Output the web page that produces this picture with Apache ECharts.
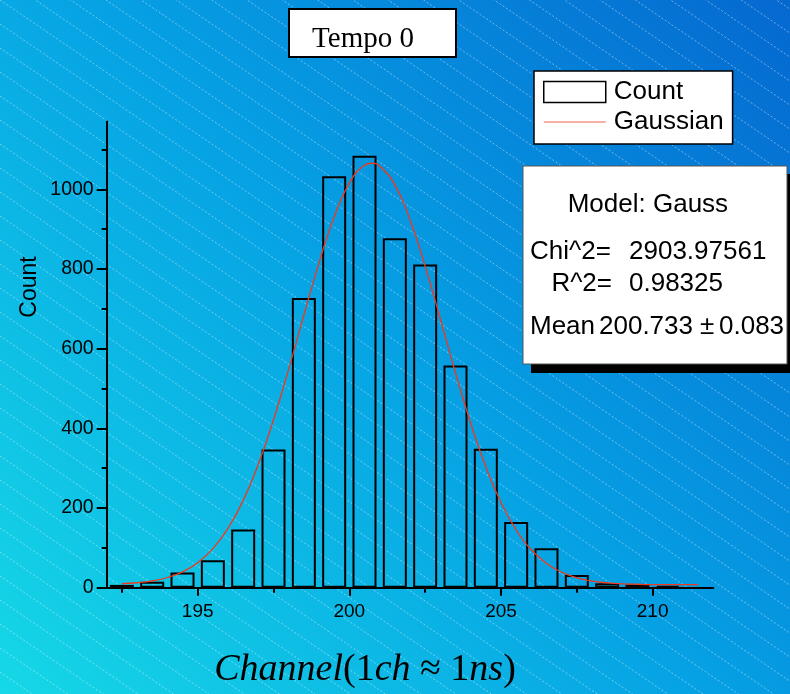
<!DOCTYPE html>
<html>
<head>
<meta charset="utf-8">
<script src="https://cdn.jsdelivr.net/npm/echarts/dist/echarts.min.js"></script>
<style>html,body{margin:0;padding:0;}#c{width:790px;height:694px;}</style>
</head>
<body>
<div id="c"></div>
<script>
// ---- data ----
const binCenters = [192.5,193.5,194.5,195.5,196.5,197.5,198.5,199.5,200.5,201.5,202.5,203.5,204.5,205.5,206.5,207.5,208.5,209.5,210.5];
const counts     = [7,15,38,69,146,347,727,1033,1084,877,811,558,349,165,99,32,11,8,5];
const curveX = [192.5,193,193.5,194,194.5,195,195.5,196,196.5,197,197.5,198,198.5,199,199.5,200,200.5,200.75,201,201.5,202,202.5,203,203.5,204,204.5,205,205.5,206,206.5,207,207.5,208,208.5,209,209.5,210,210.5,211,211.5];
const curveY = [9.9,12.4,17.1,25.6,39.8,62.8,98.1,149.2,219.2,310.3,421.6,548.7,683.8,815.5,930.5,1015.7,1060.3,1065.5,1058.7,1011.1,923.5,806.9,674.6,539.6,413.5,303.4,213.8,145.0,95.2,60.9,38.7,24.9,16.7,12.2,9.8,8.6,7.9,7.7,7.6,7.5];
const xMajorTicks = [195,200,205,210];
const xMinorTicks = [192.5,197.5,202.5,207.5];
const yMajorTicks = [0,200,400,600,800,1000];
const yMinorTicks = [100,300,500,700,900,1100];
const titleText = 'Tempo 0';
const statsLines = {model:'Model: Gauss', chiLabel:'Chi^2', chiVal:'2903.97561', r2Label:'R^2', r2Val:'0.98325', meanLabel:'Mean', meanVal:'200.733', meanErr:'0.083'};

const chart = echarts.init(document.getElementById('c'), null, {renderer:'canvas'});

// background texture lines
const tex = [];
for (let c = -600; c < 700; c += 24) {
  tex.push({type:'line', silent:true, z:-10,
    shape:{x1:0, y1:c, x2:790, y2:c + 0.68*790},
    style:{stroke:'rgba(255,255,255,0.42)', lineWidth:1, lineDash:[2,2]}});
}

const sans = 'Liberation Sans, Arial, sans-serif';
const serif = 'Liberation Serif, Times New Roman, serif';

const gridL = 106.7, gridR = 76.7, gridT = 121.6, gridB = 106.3;

const option = {
  animation:false,
  backgroundColor: new echarts.graphic.LinearGradient(0,1,1,0,[
    {offset:0, color:'#16d8e6'},
    {offset:0.5, color:'#06a2e4'},
    {offset:1, color:'#0568d0'}
  ]),
  grid:{left:gridL, right:gridR, top:gridT, bottom:gridB},
  xAxis:[{
    type:'value', min:192, max:212,
    axisLine:{show:true, onZero:false, lineStyle:{color:'#000', width:2}},
    axisTick:{show:true, customValues:xMajorTicks, length:8, lineStyle:{color:'#000', width:2}},
    axisLabel:{show:true, customValues:xMajorTicks, color:'#000', fontSize:19, fontFamily:sans, margin:15},
    splitLine:{show:false}
  },{
    type:'value', min:192, max:212, position:'bottom',
    axisLine:{show:false},
    axisTick:{show:true, customValues:xMinorTicks, length:5, lineStyle:{color:'#000', width:2}},
    axisLabel:{show:false},
    splitLine:{show:false}
  }],
  yAxis:[{
    type:'value', min:0, max:1170,
    axisLine:{show:true, lineStyle:{color:'#000', width:2}},
    axisTick:{show:true, customValues:yMajorTicks, length:10, lineStyle:{color:'#000', width:2}},
    axisLabel:{show:true, customValues:yMajorTicks, color:'#000', fontSize:19.5, fontFamily:sans, margin:13,
      formatter:function(v){return String(v);}},
    splitLine:{show:false}
  },{
    type:'value', min:0, max:1170, position:'left',
    axisLine:{show:false},
    axisTick:{show:true, customValues:yMinorTicks, length:5, lineStyle:{color:'#000', width:2}},
    axisLabel:{show:false},
    splitLine:{show:false}
  }],
  legend:{
    left:534, top:71, orient:'vertical',
    backgroundColor:'#fff', borderColor:'#000', borderWidth:1.5,
    padding:[8,9,9,9], itemGap:4, itemWidth:62, itemHeight:21,
    symbolKeepAspect:true,
    textStyle:{color:'#000', fontSize:26, fontFamily:sans, lineHeight:25, padding:[0,0,0,3]},
    data:[
      {name:'Count', icon:'rect', itemStyle:{color:'#fff', borderColor:'#000', borderWidth:1.5}},
      {name:'Gaussian', icon:'path://M0,0L62,0L62,1.1L0,1.1Z', itemStyle:{color:'#f2604a', borderWidth:0}}
    ]
  },
  series:[{
    name:'Count', type:'bar', xAxisIndex:0, yAxisIndex:0,
    barWidth:24,
    data: binCenters.map((x,i)=>[x, counts[i]]),
    itemStyle:{color:'rgba(0,0,0,0)', borderColor:'#000', borderWidth:2},
    emphasis:{disabled:true}
  },{
    name:'Gaussian', type:'line', xAxisIndex:0, yAxisIndex:0,
    smooth:true, symbol:'none', showSymbol:false,
    data: curveX.map((x,i)=>[x, curveY[i]]),
    lineStyle:{color:'#f0381c', width:1.3},
    itemStyle:{color:'#f0381c'},
    z:5
  }],
  graphic:[
    {type:'group', silent:true, z:-10, children:tex},
    // title box
    {type:'rect', z:20, shape:{x:289, y:9, width:167, height:48},
      style:{fill:'#fff', stroke:'#000', lineWidth:2}},
    {type:'text', z:21, x:363, y:39, style:{text:titleText, fontFamily:serif, fontSize:29, fill:'#000', align:'center', verticalAlign:'middle'}},
    // stats box
    {type:'rect', z:20, shape:{x:531, y:174, width:265, height:199}, style:{fill:'#000'}},
    {type:'rect', z:21, shape:{x:523, y:166, width:264, height:198}, style:{fill:'#fff', stroke:'#555', lineWidth:1}},
    {type:'text', z:22, x:567.7, y:205, style:{text:statsLines.model, fontFamily:sans, fontSize:26, fill:'#000', verticalAlign:'middle'}},
    {type:'text', z:22, x:530, y:252, style:{text:statsLines.chiLabel + '=', fontFamily:sans, fontSize:26, fill:'#000', verticalAlign:'middle'}},
    {type:'text', z:22, x:629, y:252, style:{text:statsLines.chiVal, fontFamily:sans, fontSize:26, fill:'#000', verticalAlign:'middle'}},
    {type:'text', z:22, x:612, y:284, style:{text:statsLines.r2Label + '=', fontFamily:sans, fontSize:26, fill:'#000', align:'right', verticalAlign:'middle'}},
    {type:'text', z:22, x:629, y:284, style:{text:statsLines.r2Val, fontFamily:sans, fontSize:26, fill:'#000', verticalAlign:'middle'}},
    {type:'text', z:22, x:530, y:327, style:{text:statsLines.meanLabel, fontFamily:sans, fontSize:26, fill:'#000', verticalAlign:'middle'}},
    {type:'text', z:22, x:599, y:327, style:{text:statsLines.meanVal, fontFamily:sans, fontSize:26, fill:'#000', verticalAlign:'middle'}},
    {type:'text', z:22, x:700, y:327, style:{text:'\u00b1', fontFamily:sans, fontSize:26, fill:'#000', verticalAlign:'middle'}},
    {type:'text', z:22, x:719, y:327, style:{text:statsLines.meanErr, fontFamily:sans, fontSize:26, fill:'#000', verticalAlign:'middle'}},
    // y axis name
    {type:'text', z:5, x:30, y:287, rotation:Math.PI/2, style:{text:'Count', fontFamily:sans, fontSize:23, fill:'#000', align:'center', verticalAlign:'middle'}},
    // x axis name
    {type:'text', z:5, x:365, y:670, style:{
      text:'{i|Channel}{n|(1}{i|ch}{n| \u2248 1}{i|ns}{n|)}',
      align:'center', verticalAlign:'middle',
      rich:{
        i:{fontFamily:serif, fontStyle:'italic', fontSize:38, fill:'#000', color:'#000'},
        n:{fontFamily:serif, fontSize:38, fill:'#000', color:'#000'}
      }}}
  ]
};
chart.setOption(option);
</script>
</body>
</html>
